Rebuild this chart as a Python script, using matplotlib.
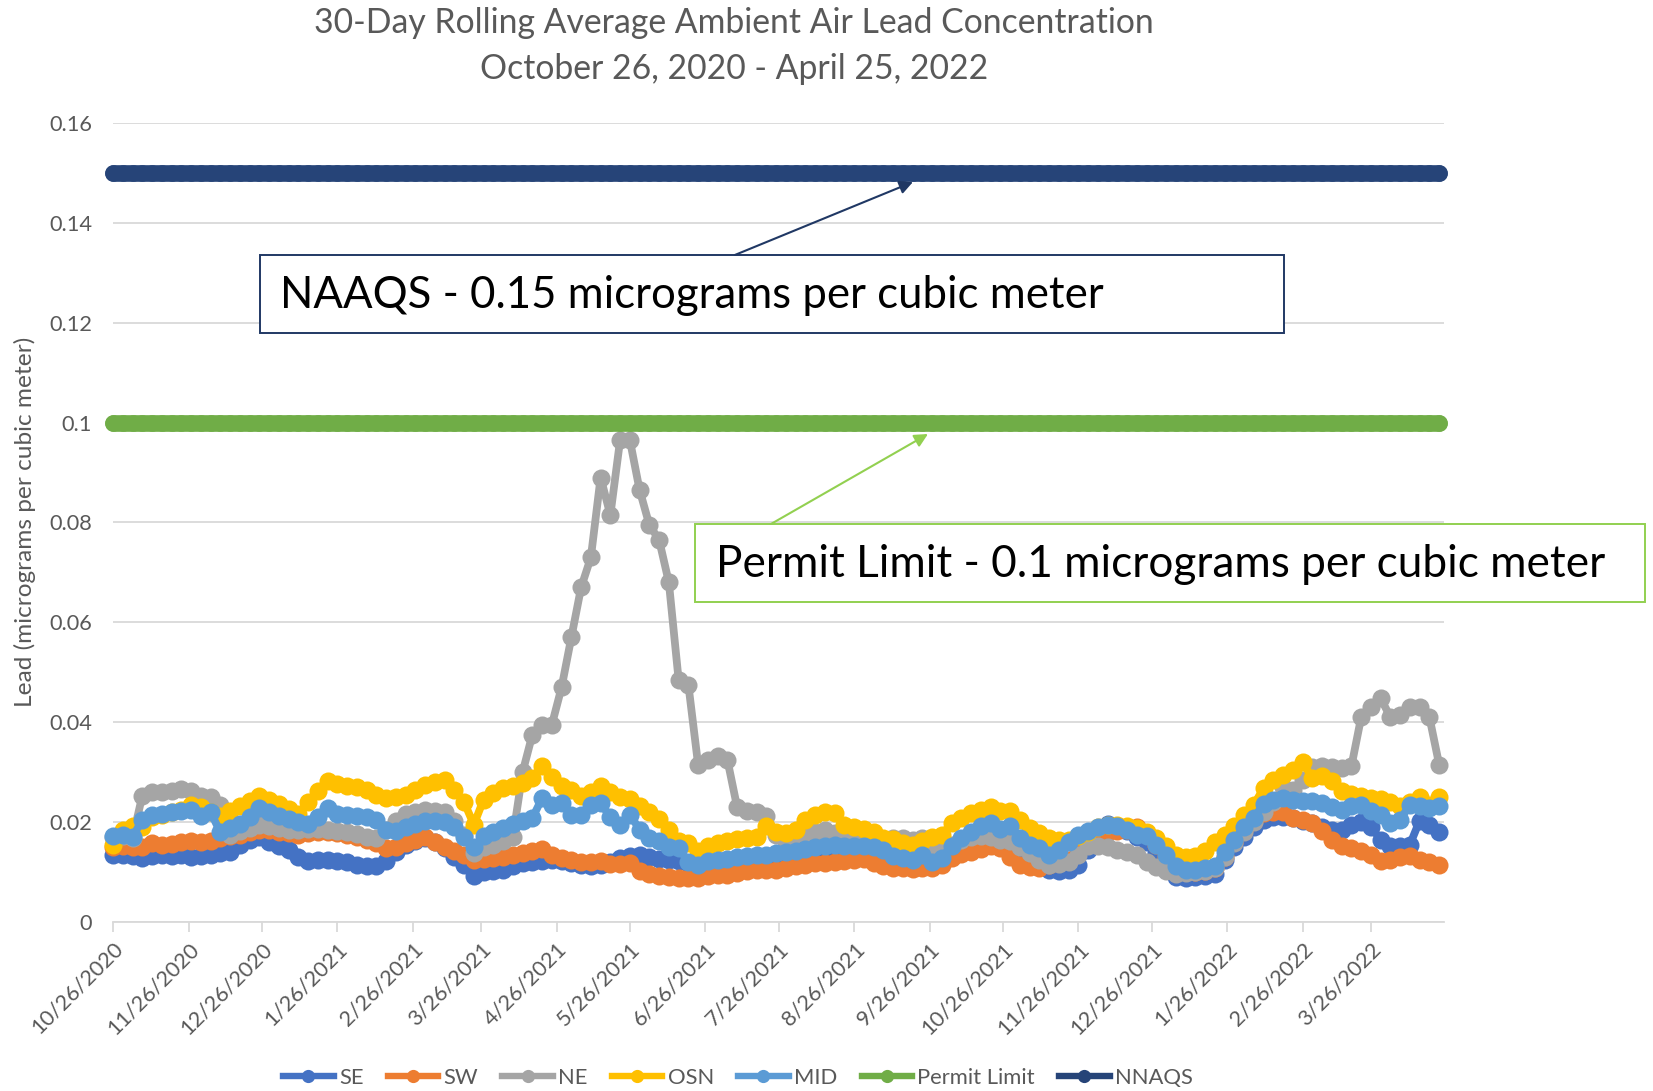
import numpy as np
import pandas as pd
import matplotlib
matplotlib.use('Agg')
import matplotlib.pyplot as plt
from matplotlib.lines import Line2D
from matplotlib.patches import Rectangle, FancyArrowPatch

plt.rcParams['font.family'] = ['Lato', 'DejaVu Sans']

# ---------------- data ----------------
start_date = '2020-10-26'
end_date = '2022-04-25'
step_days = 4
n_points = 137
dates = pd.date_range(start_date, periods=n_points, freq=f'{step_days}D')

SCALE = 0.001  # values below are read in thousandths of a microgram per cubic meter

se = [13.5, 13.5, 13.3, 12.8, 13.2, 13.5, 13.3, 13.5, 13.0, 13.3,
      13.5, 13.8, 14.0, 15.5, 16.5, 17.0, 16.0, 15.2, 14.5, 13.0,
      12.3, 12.5, 12.5, 12.3, 12.0, 11.5, 11.3, 11.2, 12.3, 14.0,
      15.5, 16.3, 16.8, 16.0, 14.8, 13.0, 11.5, 9.3, 10.0, 10.2,
      10.5, 11.2, 11.8, 12.0, 12.3, 12.5, 12.3, 11.8, 11.5, 11.2,
      11.5, 12.0, 12.8, 13.2, 13.5, 13.0, 12.7, 12.4, 12.2, 11.8,
      11.2, 11.0, 11.2, 11.5, 11.8, 12.0, 12.2, 12.3, 12.5, 12.7,
      13.0, 13.3, 13.5, 13.7, 13.8, 14.0, 14.0, 13.8, 13.5, 12.8,
      12.3, 11.8, 11.5, 12.3, 12.0, 12.3, 13.5, 14.8, 15.8, 16.5,
      17.0, 16.8, 16.0, 14.5, 12.5, 11.0, 10.5, 10.3, 10.5, 11.5,
      14.5, 17.5, 19.6, 19.3, 18.3, 17.0, 16.0, 13.8, 11.0, 9.0,
      8.8, 9.0, 9.2, 9.6, 12.5, 15.0, 17.0, 19.0, 20.5, 21.0,
      21.0, 20.8, 20.3, 19.8, 19.0, 18.5, 18.5, 19.5, 20.0, 19.0,
      16.5, 15.3, 15.3, 15.5, 20.3, 19.5, 18.0]

sw = [15.0, 15.2, 15.0, 15.0, 15.8, 15.5, 15.7, 16.0, 16.3, 16.0,
      16.3, 16.8, 17.2, 17.5, 18.0, 18.5, 18.5, 18.0, 17.8, 17.5,
      17.8, 18.0, 18.0, 17.8, 17.5, 17.0, 16.5, 15.8, 14.8, 15.0,
      15.8, 16.5, 17.0, 16.0, 15.0, 14.2, 13.5, 12.5, 12.7, 12.9,
      13.0, 13.5, 13.8, 14.2, 14.7, 13.5, 12.8, 12.5, 12.0, 12.0,
      12.2, 11.7, 11.6, 11.8, 10.2, 9.6, 9.2, 9.0, 8.9, 8.9,
      8.9, 9.2, 9.5, 9.5, 9.8, 10.2, 10.4, 10.5, 10.5, 10.8,
      11.2, 11.5, 11.9, 11.9, 12.0, 12.2, 12.4, 12.7, 11.8, 11.3,
      10.9, 10.8, 10.6, 10.8, 10.9, 11.5, 12.8, 13.6, 14.0, 14.6,
      15.2, 14.9, 13.0, 11.5, 11.0, 10.9, 11.5, 12.0, 12.5, 14.0,
      15.5, 17.0, 18.0, 18.3, 18.5, 19.0, 17.5, 15.5, 13.0, 11.0,
      10.0, 10.0, 10.2, 10.8, 13.0, 16.0, 18.5, 20.3, 21.8, 22.0,
      22.0, 20.8, 20.5, 19.9, 18.3, 16.5, 15.3, 14.9, 14.2, 13.5,
      12.3, 12.4, 13.0, 13.2, 12.5, 12.0, 11.5]

ne = [17.0, 17.2, 16.8, 25.3, 26.0, 26.0, 26.3, 26.7, 26.3, 25.3,
      25.0, 23.5, 17.5, 18.2, 18.8, 19.5, 19.3, 18.8, 18.5, 18.5,
      18.7, 18.7, 18.5, 18.3, 18.0, 17.7, 17.0, 16.8, 18.5, 20.3,
      21.7, 22.0, 22.5, 22.3, 22.0, 20.3, 17.5, 13.8, 15.0, 15.5,
      16.3, 17.0, 30.0, 37.5, 39.5, 39.5, 47.0, 57.0, 67.0, 73.0,
      89.0, 81.5, 96.5, 96.5, 86.5, 79.5, 76.5, 68.0, 48.5, 47.5,
      31.5, 32.5, 33.2, 32.5, 23.0, 22.3, 22.0, 21.3, 17.5, 16.2,
      16.5, 17.2, 18.0, 18.5, 17.8, 16.5, 16.3, 16.5, 16.5, 16.5,
      16.8, 16.9, 16.5, 16.8, 15.5, 14.5, 15.5, 16.5, 17.0, 17.2,
      17.0, 16.5, 16.2, 15.0, 13.8, 12.5, 11.5, 11.7, 12.0, 13.5,
      15.2, 15.2, 15.0, 14.5, 14.0, 13.5, 12.0, 11.0, 10.2, 9.7,
      9.8, 10.0, 10.3, 10.8, 13.0, 15.8, 18.0, 20.0, 22.0, 24.0,
      27.0, 26.5, 28.5, 31.0, 31.3, 31.0, 30.8, 31.2, 41.0, 43.0,
      44.8, 41.0, 41.5, 43.0, 43.0, 41.0, 31.5]

osn = [15.5, 18.5, 19.2, 19.0, 21.0, 21.5, 22.0, 22.5, 23.5, 23.0,
       22.0, 21.3, 22.3, 23.3, 24.3, 25.2, 24.5, 23.7, 22.7, 21.7,
       24.0, 26.3, 28.2, 27.7, 27.3, 27.0, 26.5, 25.5, 24.8, 25.0,
       25.5, 26.5, 27.5, 28.0, 28.5, 26.5, 24.0, 19.5, 24.5, 25.8,
       26.9, 27.3, 27.8, 28.8, 31.2, 29.0, 27.2, 26.5, 25.3, 26.0,
       27.3, 26.0, 25.0, 24.6, 23.2, 22.0, 20.6, 18.5, 16.3, 15.8,
       14.2, 15.3, 15.8, 16.3, 16.6, 16.8, 17.0, 19.3, 18.0, 17.8,
       18.5, 20.5, 21.4, 22.0, 21.8, 19.5, 19.0, 18.7, 18.0, 16.9,
       16.6, 15.9, 15.4, 16.3, 17.0, 17.5, 19.8, 20.8, 21.8, 22.5,
       23.0, 22.3, 22.2, 20.5, 18.8, 17.9, 16.8, 16.5, 16.5, 17.3,
       18.0, 19.0, 19.5, 19.5, 19.3, 18.8, 18.0, 16.8, 15.3, 13.5,
       13.0, 13.2, 14.2, 16.0, 17.5, 19.2, 21.5, 23.5, 26.8, 28.5,
       29.5, 30.5, 32.0, 28.8, 29.2, 28.2, 26.3, 25.7, 25.3, 24.9,
       24.6, 24.0, 23.3, 24.0, 25.0, 23.5, 25.0]

mid = [17.2, 17.5, 17.0, 20.5, 21.5, 21.7, 22.0, 22.3, 22.5, 21.3,
       22.0, 18.0, 18.8, 19.7, 21.0, 22.8, 22.0, 21.3, 20.7, 20.0,
       19.7, 21.0, 22.8, 21.7, 21.5, 21.3, 21.0, 20.5, 18.5, 18.3,
       19.0, 19.7, 20.2, 20.2, 20.0, 19.0, 17.0, 15.0, 17.2, 18.0,
       18.8, 19.7, 20.3, 20.8, 24.8, 23.5, 23.8, 21.5, 21.5, 23.5,
       23.8, 21.0, 19.5, 21.5, 18.5, 16.9, 16.2, 15.0, 14.9, 12.0,
       11.5, 12.2, 12.4, 12.7, 13.0, 13.2, 13.4, 13.5, 13.9, 14.0,
       14.2, 14.7, 15.0, 15.2, 15.5, 15.3, 15.2, 15.2, 15.0, 14.5,
       13.3, 12.8, 12.5, 13.5, 12.0, 12.9, 15.3, 16.8, 18.0, 19.2,
       19.9, 18.6, 19.2, 16.8, 15.5, 14.8, 13.5, 14.5, 16.0, 17.5,
       18.3, 19.0, 19.5, 19.3, 18.5, 17.5, 17.2, 15.5, 13.5, 11.2,
       10.5, 10.5, 10.8, 11.2, 14.0, 16.5, 19.0, 20.8, 23.7, 24.5,
       24.8, 24.5, 24.3, 24.2, 23.8, 23.0, 22.5, 23.2, 23.5, 22.3,
       21.5, 19.9, 20.5, 23.5, 23.3, 22.9, 23.2]

permit_limit = 0.10
naaqs = 0.15

series_names = ['SE', 'SW', 'NE', 'OSN', 'MID']
series_values = [se, sw, ne, osn, mid]
series_colors = ['#4472C4', '#ED7D31', '#A5A5A5', '#FFC000', '#5B9BD5']
limit_names = ['Permit Limit', 'NNAQS']
limit_values = [permit_limit, naaqs]
limit_colors = ['#70AD47', '#264478']

x_tick_labels = ['10/26/2020', '11/26/2020', '12/26/2020', '1/26/2021', '2/26/2021',
                 '3/26/2021', '4/26/2021', '5/26/2021', '6/26/2021', '7/26/2021',
                 '8/26/2021', '9/26/2021', '10/26/2021', '11/26/2021', '12/26/2021',
                 '1/26/2022', '2/26/2022', '3/26/2022']
y_ticks = [0, 0.02, 0.04, 0.06, 0.08, 0.10, 0.12, 0.14, 0.16]
y_tick_labels = ['0', '0.02', '0.04', '0.06', '0.08', '0.1', '0.12', '0.14', '0.16']

title_line1 = '30-Day Rolling Average Ambient Air Lead Concentration'
title_line2 = 'October 26, 2020 - April 25, 2022'
y_label = 'Lead (micrograms per cubic meter)'
naaqs_note = 'NAAQS - 0.15 micrograms per cubic meter'
permit_note = 'Permit Limit - 0.1 micrograms per cubic meter'

# ---------------- figure ----------------
TXT = '#595959'
GRID = '#D9D9D9'
LW = 5.6
MS = 13.0
LIMIT_W = 12.0

fig = plt.figure(figsize=(16.53, 10.91), dpi=100)
ax = fig.add_axes([0.0684, 0.1549, 0.8052, 0.7324])

for name, vals, col in zip(series_names, series_values, series_colors):
    ax.plot(dates, np.array(vals) * SCALE, color=col, lw=LW, marker='o', ms=MS,
            mew=0, clip_on=False, solid_joinstyle='round', solid_capstyle='round',
            zorder=3, label=name)
for name, val, col in zip(limit_names, limit_values, limit_colors):
    ax.plot(dates, np.full(len(dates), val), color=col, lw=LIMIT_W, marker='o',
            ms=LIMIT_W, mew=0, clip_on=False, solid_capstyle='round', zorder=3,
            label=name)

ax.set_xlim(pd.Timestamp(start_date), pd.Timestamp(end_date))
ax.set_ylim(0, 0.16)
ax.set_yticks(y_ticks)
ax.set_yticklabels(y_tick_labels)
ax.set_xticks(pd.to_datetime(x_tick_labels, format='%m/%d/%Y'))
ax.set_xticklabels(x_tick_labels, rotation=45, ha='right', rotation_mode='anchor')

ax.yaxis.grid(True, color=GRID, lw=1.3)
ax.set_axisbelow(True)
for s in ['top', 'right', 'left']:
    ax.spines[s].set_visible(False)
ax.spines['bottom'].set_color(GRID)
ax.spines['bottom'].set_linewidth(1.3)
ax.tick_params(axis='x', length=7, width=1.3, color=GRID, labelsize=15.7,
               labelcolor=TXT, pad=5)
ax.tick_params(axis='y', length=0, labelsize=15.7, labelcolor=TXT, pad=15)

# titles and axis label
fig.text(0.444, 0.979, title_line1, ha='center', va='center', fontsize=24.3, color=TXT)
fig.text(0.444, 0.937, title_line2, ha='center', va='center', fontsize=24.3, color=TXT)
fig.text(0.0153, 0.5216, y_label, rotation=90, ha='center', va='center',
         fontsize=17.6, color=TXT)

# annotation boxes
fig.add_artist(Rectangle((0.1573, 0.6948), 0.6195, 0.0715, transform=fig.transFigure,
                         facecolor='white', edgecolor='#203864', lw=1.4, zorder=5))
fig.text(0.1696, 0.7296, naaqs_note, ha='left', va='center', fontsize=31.5,
         color='black', zorder=6)
fig.add_artist(FancyArrowPatch((0.4446, 0.7663), (0.5523, 0.8332),
                               transform=fig.transFigure, arrowstyle='-|>',
                               mutation_scale=20, color='#203864', lw=1.5,
                               shrinkA=0, shrinkB=0, zorder=6))

fig.add_artist(Rectangle((0.4204, 0.4482), 0.5747, 0.0715, transform=fig.transFigure,
                         facecolor='white', edgecolor='#92D050', lw=1.4, zorder=5))
fig.text(0.4331, 0.4830, permit_note, ha='left', va='center', fontsize=31.8,
         color='black', zorder=6)
fig.add_artist(FancyArrowPatch((0.4664, 0.5197), (0.5614, 0.6022),
                               transform=fig.transFigure, arrowstyle='-|>',
                               mutation_scale=20, color='#92D050', lw=1.5,
                               shrinkA=0, shrinkB=0, zorder=6))

# legend
handles = [Line2D([0], [0], color=c, lw=4.6, marker='o', ms=9.5, mew=0)
           for c in series_colors + limit_colors]
fig.legend(handles, series_names + limit_names, loc='center',
           bbox_to_anchor=(0.4465, 0.012), ncol=7, frameon=False, fontsize=15.8,
           handlelength=2.3, handletextpad=0.25, columnspacing=1.1, labelcolor=TXT)

fig.savefig('out.png', dpi=100)
